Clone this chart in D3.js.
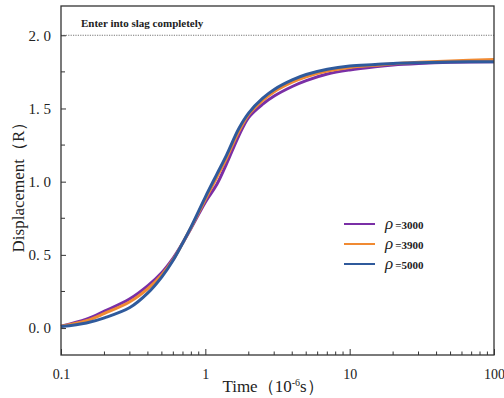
<!DOCTYPE html>
<html>
<head>
<meta charset="utf-8">
<script src="https://cdn.jsdelivr.net/npm/d3@7"></script>
<style>
  body { margin: 0; background: #fff; }
  svg { display: block; }
  text { font-family: "Liberation Serif", "DejaVu Serif", serif; fill: #222; }
</style>
</head>
<body>
<div id="chart"></div>
<script>
// time in 10^-6 s
var times = [0.1, 0.15, 0.2, 0.3, 0.4, 0.5, 0.6, 0.7, 0.8, 1.0, 1.2, 1.4, 1.7, 2.0, 2.5, 3.0, 4.0, 5.0, 7.0, 10, 15, 20, 30, 50, 100];
var rho3000 = [0.012, 0.06, 0.115, 0.20, 0.29, 0.38, 0.48, 0.585, 0.685, 0.86, 0.98, 1.12, 1.31, 1.44, 1.53, 1.585, 1.65, 1.69, 1.735, 1.763, 1.785, 1.797, 1.807, 1.815, 1.82];
var rho3900 = [0.012, 0.05, 0.10, 0.18, 0.27, 0.365, 0.47, 0.585, 0.69, 0.88, 1.03, 1.16, 1.34, 1.46, 1.555, 1.615, 1.68, 1.717, 1.755, 1.78, 1.795, 1.805, 1.815, 1.825, 1.835];
var rho5000 = [0.01, 0.035, 0.07, 0.14, 0.24, 0.35, 0.465, 0.585, 0.695, 0.895, 1.05, 1.18, 1.36, 1.47, 1.57, 1.63, 1.695, 1.732, 1.768, 1.79, 1.80, 1.808, 1.813, 1.817, 1.82];
var seriesNames = ["3000", "3900", "5000"];
var seriesColors = ["#7a2fa6", "#f08a32", "#2f5a9c"];
var yTicks = [0, 0.5, 1.0, 1.5, 2.0];
var xTicks = [0.1, 1, 10, 100];
var completeLevel = 2.0;

var W = 504, H = 398;
var margin = { top: 6, right: 10, bottom: 43, left: 61 };
var width = W - margin.left - margin.right,
    height = H - margin.top - margin.bottom;

var svg = d3.select("#chart").append("svg").attr("width", W).attr("height", H);
var g = svg.append("g").attr("transform", "translate(" + margin.left + "," + margin.top + ")");

var x = d3.scaleLog().domain([0.1, 100]).range([0, width]);
var y = d3.scaleLinear().domain([-0.184, 2.2]).range([height, 0]);

// dotted reference line
g.append("line")
  .attr("x1", 0).attr("x2", width)
  .attr("y1", y(completeLevel)).attr("y2", y(completeLevel))
  .attr("stroke", "#555").attr("stroke-width", 0.8)
  .attr("stroke-dasharray", "1.2,1.2");

g.append("text")
  .attr("x", 20).attr("y", y(completeLevel) - 8)
  .attr("font-size", 11).attr("font-weight", "bold")
  .text("Enter into slag completely");

// curves
var allSeries = [rho3000, rho3900, rho5000];
var line = d3.line()
  .x(function (d) { return x(d[0]); })
  .y(function (d) { return y(d[1]); })
  .curve(d3.curveCatmullRom.alpha(0.5));

allSeries.forEach(function (vals, i) {
  g.append("path")
    .datum(times.map(function (t, j) { return [t, vals[j]]; }))
    .attr("fill", "none")
    .attr("stroke", seriesColors[i])
    .attr("stroke-width", 3)
    .attr("d", line);
});

// frame
g.append("rect")
  .attr("width", width).attr("height", height)
  .attr("fill", "none").attr("stroke", "#333").attr("stroke-width", 1.3);

// y axis, ticks inside
var yAxis = g.append("g")
  .call(d3.axisLeft(y).tickValues(yTicks).tickSize(-5).tickPadding(10)
    .tickFormat(function (d) { return d3.format(".1f")(d).replace(".", ". "); }));
yAxis.select(".domain").remove();
yAxis.selectAll(".tick line").attr("stroke", "#333");
yAxis.selectAll("text").attr("font-size", 15).attr("fill", "#333")
  .attr("font-family", "'Liberation Serif', serif");

var yMinor = [0.25, 0.75, 1.25, 1.75];
g.append("g").selectAll("line").data(yMinor).enter().append("line")
  .attr("x1", 0).attr("x2", 4)
  .attr("y1", function (d) { return y(d); }).attr("y2", function (d) { return y(d); })
  .attr("stroke", "#333");

// x axis, ticks inside
var xAxis = g.append("g")
  .attr("transform", "translate(0," + height + ")")
  .call(d3.axisBottom(x).tickValues(xTicks).tickSize(-6).tickPadding(14)
    .tickFormat(function (d) { return d < 1 ? d3.format(".1f")(d) : d3.format("d")(d); }));
xAxis.select(".domain").remove();
xAxis.selectAll(".tick line").attr("stroke", "#333");
xAxis.selectAll("text").attr("font-size", 14).attr("fill", "#333")
  .attr("font-family", "'Liberation Serif', serif");

var xMinor = [];
[0.1, 1, 10].forEach(function (dec) {
  for (var k = 2; k <= 9; k++) xMinor.push(dec * k);
});
g.append("g").selectAll("line").data(xMinor).enter().append("line")
  .attr("x1", function (d) { return x(d); }).attr("x2", function (d) { return x(d); })
  .attr("y1", height).attr("y2", height - 3.5)
  .attr("stroke", "#333");

// axis labels
var xl = svg.append("text")
  .attr("x", 273).attr("y", 392)
  .attr("text-anchor", "middle").attr("font-size", 17).attr("fill", "#222");
xl.append("tspan").text("Time（10");
xl.append("tspan").attr("dy", -6).attr("font-size", 10).text("-6");
xl.append("tspan").attr("dy", 6).text("s）");

svg.append("text")
  .attr("transform", "translate(24,183) rotate(-90)")
  .attr("text-anchor", "middle").attr("font-size", 17).attr("fill", "#222")
  .text("Displacement（R）");

// legend
var legend = svg.append("g").attr("transform", "translate(344,224)");
seriesNames.forEach(function (name, i) {
  var row = legend.append("g").attr("transform", "translate(0," + (i * 20) + ")");
  row.append("line").attr("x1", 0).attr("x2", 31).attr("y1", 0).attr("y2", 0)
    .attr("stroke", seriesColors[i]).attr("stroke-width", 2);
  var t = row.append("text").attr("x", 41).attr("y", 5);
  t.append("tspan").attr("font-size", 17).attr("font-style", "italic").text("ρ");
  t.append("tspan").attr("font-size", 11).attr("font-weight", "bold").attr("dx", 2).text("=" + name);
});
</script>
</body>
</html>
